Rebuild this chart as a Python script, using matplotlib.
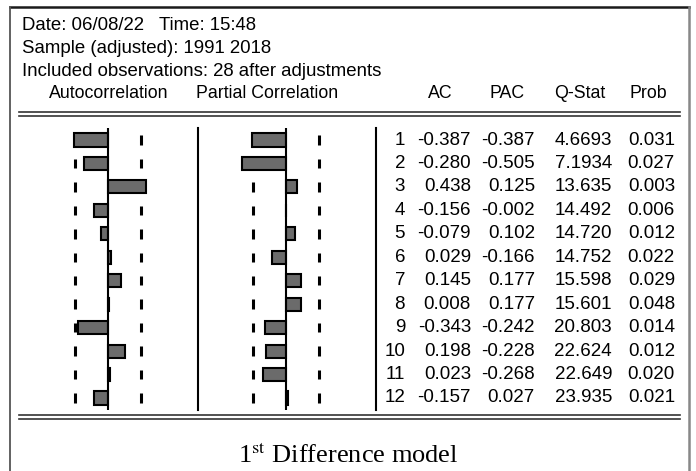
import numpy as np
import matplotlib
matplotlib.use('Agg')
import matplotlib.pyplot as plt

plt.rcParams['font.family'] = ['Liberation Sans', 'DejaVu Sans']
plt.rcParams['mathtext.fontset'] = 'stix'

# данные коррелограммы
lags = [1, 2, 3, 4, 5, 6, 7, 8, 9, 10, 11, 12]
ac = [-0.387, -0.280, 0.438, -0.156, -0.079, 0.029, 0.145, 0.008, -0.343, 0.198, 0.023, -0.157]
pac = [-0.387, -0.505, 0.125, -0.002, 0.102, -0.166, 0.177, 0.177, -0.242, -0.228, -0.268, 0.027]
qstat = ['4.6693', '7.1934', '13.635', '14.492', '14.720', '14.752', '15.598',
         '15.601', '20.803', '22.624', '22.649', '23.935']
prob = [0.031, 0.027, 0.003, 0.006, 0.012, 0.022, 0.029, 0.048, 0.014, 0.012, 0.020, 0.021]
nobs = 28
header_lines = ['Date: 06/08/22   Time: 15:48',
                'Sample (adjusted): 1991 2018',
                'Included observations: 28 after adjustments']
col_names = ['AC', 'PAC', 'Q-Stat', 'Prob']
caption = r'1$^{\rm st}$ Difference model'

W, H = 696, 471
fig = plt.figure(figsize=(W / 100, H / 100), dpi=100)

# фон в пикселях
bg = fig.add_axes([0, 0, 1, 1])
bg.set_xlim(0, W)
bg.set_ylim(H, 0)
bg.axis('off')

# рамка
bg.plot([10, 689], [7, 7], color='#1a1a1a', lw=1.8)
bg.plot([10, 10], [7, H + 2], color='#555555', lw=1.3)
bg.plot([689, 689], [7, H + 2], color='#888888', lw=1.8)

# двойные линии
for y in [112, 115.5, 415, 418.5]:
    bg.plot([19, 680], [y, y], color='#333333', lw=1.2)

fs = 12.8
fs_tab = 13.5
for i, t in enumerate(header_lines):
    bg.text(22, 25 + 23.5 * i, t, fontsize=13.4, va='center', ha='left')
bg.text(109, 94, 'Autocorrelation', fontsize=fs, va='center', ha='center')
bg.text(267, 94, 'Partial Correlation', fontsize=fs, va='center', ha='center')
for name, xc in zip(col_names, [440, 507, 580, 648]):
    bg.text(xc, 94, name, fontsize=fs, va='center', ha='center')

# разделители
bg.plot([198, 198], [128, 410], color='black', lw=1.5)
bg.plot([376, 376], [128, 410], color='black', lw=1.5)

bg.text(348, 456, caption, fontsize=19, va='center', ha='center',
        family='Liberation Serif')

bound = 2 / np.sqrt(nobs)
ybot = (H - 409.7) / H
yh = 281.4 / H


def draw_corr(left_px, values):
    ax = fig.add_axes([left_px / W, ybot, 174 / W, yh])
    ax.set_xlim(-1, 1)
    ax.set_ylim(12.5, 0.5)
    ax.axis('off')
    lg = np.array(lags)
    ax.vlines([-bound] * len(lg), lg - 0.2, lg + 0.2, color='black', lw=2.2, zorder=1)
    ax.vlines([bound] * len(lg), lg - 0.2, lg + 0.2, color='black', lw=2.2, zorder=1)
    ax.barh(lg, values, height=0.56, color='#6b6b6b', edgecolor='black',
            lw=1.5, zorder=2)
    ax.axvline(0, color='black', lw=1.5, zorder=3)
    return ax


draw_corr(21, ac)
draw_corr(199, pac)

# таблица
tab = fig.add_axes([376 / W, ybot, (685 - 376) / W, yh])
tab.set_xlim(376, 685)
tab.set_ylim(12.5, 0.5)
tab.axis('off')
for i, lag in enumerate(lags):
    tab.text(405, lag, str(lag), fontsize=fs_tab, ha='right', va='center')
    tab.text(471, lag, '%.3f' % ac[i], fontsize=fs_tab, ha='right', va='center')
    tab.text(535, lag, '%.3f' % pac[i], fontsize=fs_tab, ha='right', va='center')
    tab.text(612, lag, qstat[i], fontsize=fs_tab, ha='right', va='center')
    tab.text(675, lag, '%.3f' % prob[i], fontsize=fs_tab, ha='right', va='center')

fig.savefig('out.png', dpi=100)
